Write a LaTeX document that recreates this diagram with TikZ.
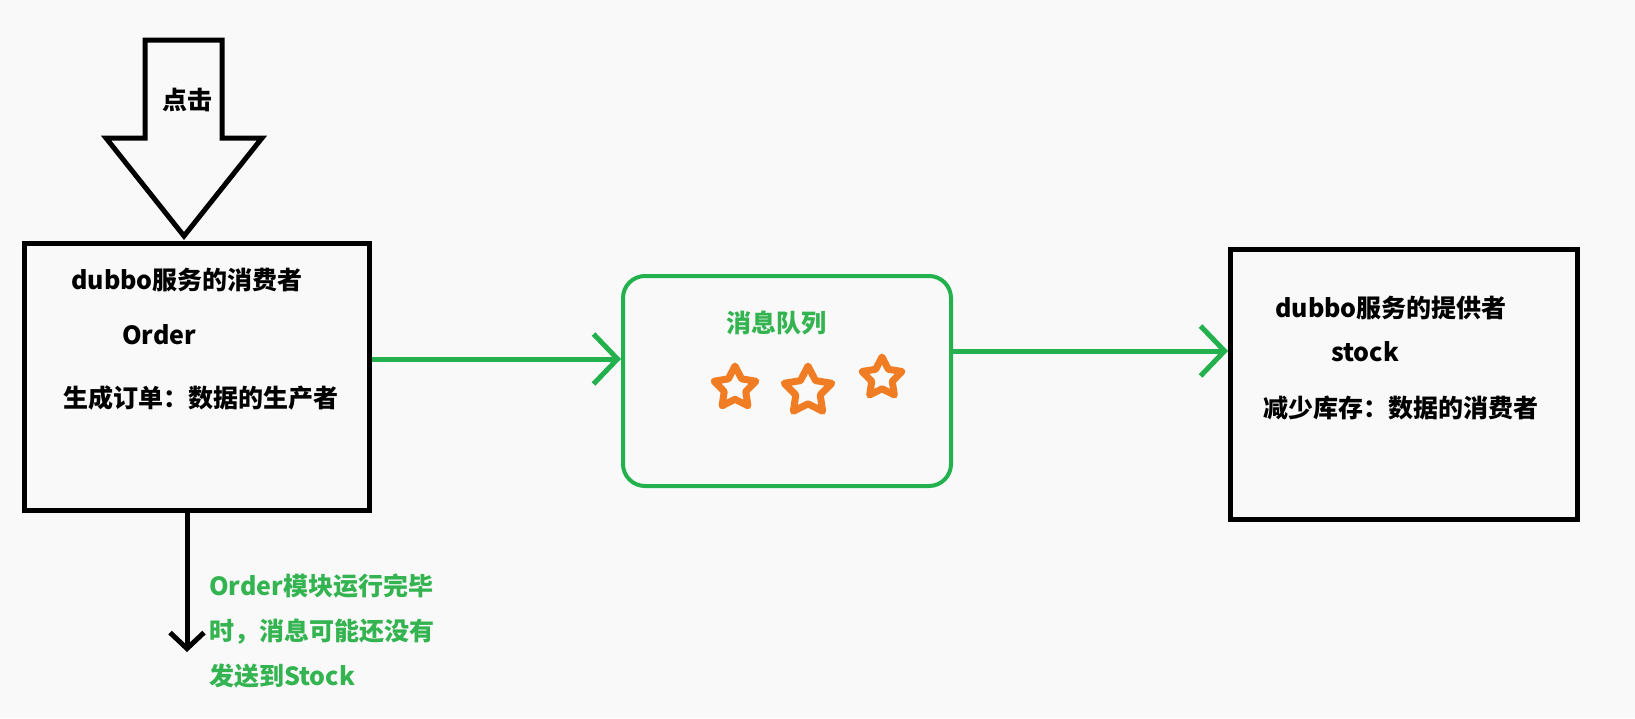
\documentclass[tikz,border=0pt]{standalone}
\usepackage{fontspec}
\setmainfont{Noto Sans CJK SC}
\usetikzlibrary{arrows.meta,shapes.geometric}
\definecolor{pgreen}{RGB}{34,177,76}
\definecolor{tgreen}{RGB}{52,180,80}
\definecolor{porange}{RGB}{240,125,35}
\definecolor{bgc}{RGB}{249,249,249}
\begin{document}
\begin{tikzpicture}[x=1pt,y=-1pt,
  txt/.style={font=\fontsize{25}{30}\selectfont\bfseries, inner sep=0pt, anchor=west},
  blackbox/.style={draw=black, line width=5pt, rectangle, inner sep=0pt},
  mqbox/.style={draw=pgreen, line width=4pt, rectangle, rounded corners=22pt, inner sep=0pt},
  greenarrow/.style={draw=pgreen, line width=5pt, -{Straight Barb[length=24pt,width=50pt]}},
  blackarrow/.style={draw=black, line width=5pt, -{Straight Barb[length=16pt,width=34pt]}},
  staricon/.style={star, star points=5, star point ratio=1.95, draw=porange, line width=7pt, line join=round, inner sep=0pt}]
\fill[bgc] (0,0) rectangle (1635,718);
\useasboundingbox (0,0) rectangle (1635,718);

% boxes
\node[blackbox, minimum width=345pt, minimum height=267pt] (box1) at (197,377) {};
\node[mqbox, minimum width=328pt, minimum height=210pt] (mq) at (787,381) {};
\node[blackbox, minimum width=347pt, minimum height=270pt] (box2) at (1404,384.5) {};

% block arrow
\draw[line width=5pt, line join=miter] (145,40) -- (222,40) -- (222,138) -- (262,138) -- (184,236) -- (106,138) -- (145,138) -- cycle;
\node[txt] (click) at (162,100) {点击};

% texts in box1
\node[txt] (c1) at (71,280) {dubbo服务的消费者};
\node[txt] (c2) at (122,335) {Order};
\node[txt] (c3) at (63,398) {生成订单：数据的生产者};

% mq
\node[txt, text=tgreen] (mqt) at (726,323) {消息队列};
\node[staricon, minimum size=44pt] (s1) at (735,388) {};
\node[staricon, minimum size=50pt] (s2) at (808,391) {};
\node[staricon, minimum size=42pt] (s3) at (882,378) {};

% texts in box2
\node[txt] (p1) at (1275,308) {dubbo服务的提供者};
\node[txt] (p2) at (1331,352) {stock};
\node[txt] (p3) at (1263,408) {减少库存：数据的消费者};

% connectors
\coordinate (y1) at (0,359);
\coordinate (y2) at (0,351);
\draw[greenarrow] (box1.east |- y1) -- (mq.west |- y1);
\draw[greenarrow] (mq.east |- y2) -- (box2.west |- y2);
\coordinate (vend) at (187,652);
\draw[blackarrow] (vend |- box1.south) -- (vend);

% note
\node[txt, text=tgreen, align=left, font=\fontsize{25}{45}\selectfont\bfseries] (note) at (209,631) {Order模块运行完毕\\时，消息可能还没有\\发送到Stock};
\end{tikzpicture}
\end{document}
